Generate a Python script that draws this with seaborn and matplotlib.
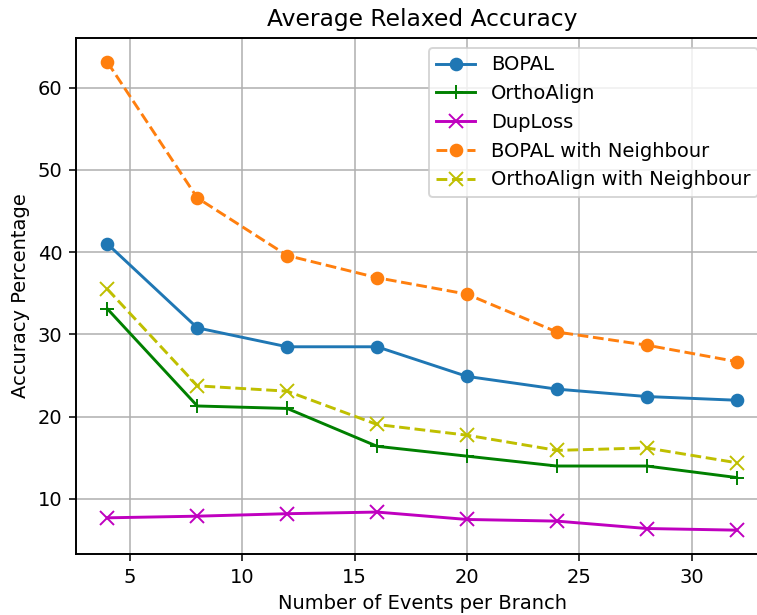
import matplotlib
matplotlib.use("Agg")
import matplotlib.pyplot as plt
import seaborn as sns
import pandas as pd

events = [4, 8, 12, 16, 20, 24, 28, 32]
bopal = [41.0, 30.8, 28.5, 28.5, 24.9, 23.35, 22.45, 22.0]
orthoalign = [33.1, 21.3, 21.0, 16.4, 15.2, 14.0, 14.0, 12.6]
duploss = [7.7, 7.9, 8.2, 8.4, 7.5, 7.3, 6.4, 6.2]
bopal_nb = [63.1, 46.6, 39.6, 36.9, 34.9, 30.3, 28.7, 26.7]
ortho_nb = [35.5, 23.75, 23.1, 19.05, 17.75, 15.9, 16.2, 14.4]

series = [
    ("BOPAL", bopal, "#1f77b4", "o", "-"),
    ("OrthoAlign", orthoalign, "#008000", "+", "-"),
    ("DupLoss", duploss, "#bf00bf", "x", "-"),
    ("BOPAL with Neighbour", bopal_nb, "#ff7f0e", "o", "--"),
    ("OrthoAlign with Neighbour", ortho_nb, "#bfbf00", "x", "--"),
]

plt.rcParams["font.family"] = ["DejaVu Sans"]
plt.rcParams["font.size"] = 10

dpi = 140
fig = plt.figure(figsize=(757 / dpi, 615 / dpi), dpi=dpi)
ax = fig.add_axes([76 / 757, 1 - 554 / 615, (768 - 76) / 757, (554 - 38) / 615])

for name, vals, color, marker, ls in series:
    df = pd.DataFrame({"x": events, "y": vals})
    sns.lineplot(data=df, x="x", y="y", ax=ax, color=color, marker=marker,
                 linestyle=ls, label=name, markersize=6 if marker == "o" else 7,
                 markeredgecolor=color, markerfacecolor=color,
                 markeredgewidth=1.0, linewidth=1.5)

ax.grid(True, color="#b0b0b0", linewidth=0.8)
ax.set_axisbelow(True)
ax.set_title("Average Relaxed Accuracy", fontsize=12)
ax.set_xlabel("Number of Events per Branch")
ax.set_ylabel("Accuracy Percentage")
ax.set_xticks([5, 10, 15, 20, 25, 30])
ax.set_yticks([10, 20, 30, 40, 50, 60])
ax.set_xlim(2.6, 33.4)
ax.set_ylim(3.3, 66.05)
for s in ax.spines.values():
    s.set_color("black")
    s.set_linewidth(1.0)
ax.legend(loc="upper right", framealpha=0.8, edgecolor="#cccccc")

fig.savefig("out.png", dpi=dpi)
